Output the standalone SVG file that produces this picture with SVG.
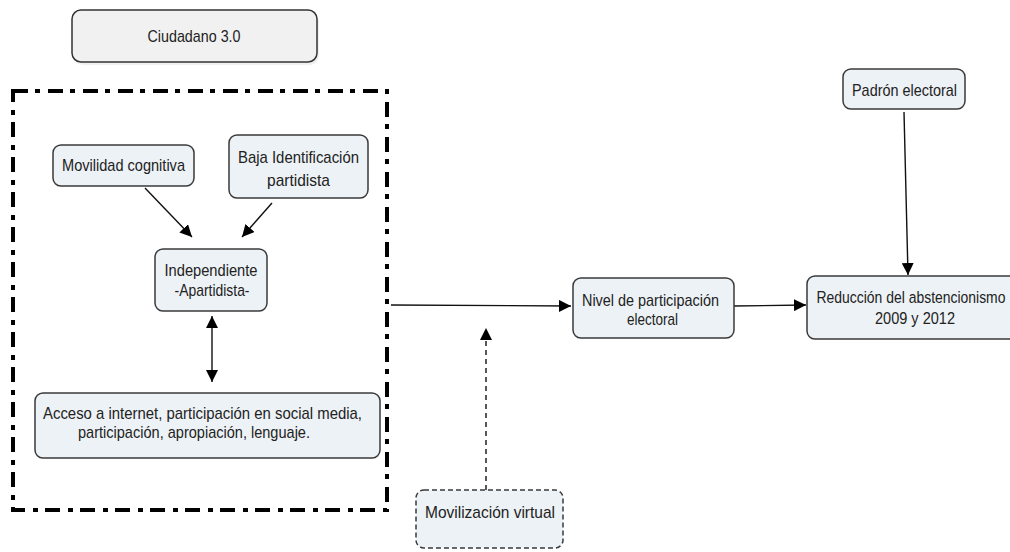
<svg xmlns="http://www.w3.org/2000/svg" width="1010" height="552" viewBox="0 0 1010 552">
<defs>
<marker id="ah" markerWidth="12" markerHeight="12" viewBox="0 0 12 12" refX="12" refY="6" orient="auto" markerUnits="userSpaceOnUse">
<path d="M0,0 L12,6 L0,12 Z" fill="#000"/>
</marker>
<marker id="ahs" markerWidth="12" markerHeight="12" viewBox="0 0 12 12" refX="0" refY="6" orient="auto" markerUnits="userSpaceOnUse">
<path d="M12,0 L0,6 L12,12 Z" fill="#000"/>
</marker>
</defs>
<style>
.n{fill:#edf2f6;stroke:#3a3a3a;stroke-width:1.5}
.sh{fill:#000;opacity:0.06}
.t{font-family:"Liberation Sans",Arial,sans-serif;font-size:17px;fill:#222;text-anchor:middle}
.c{fill:none;stroke:#111;stroke-width:1.4}
</style>
<rect width="1010" height="552" fill="#fff"/>
<rect x="13" y="91" width="374" height="419" fill="none" stroke="#000" stroke-width="4" stroke-dasharray="15 7 5 8"/>
<g id="connectors">
<line class="c" x1="145" y1="188" x2="192" y2="237" marker-end="url(#ah)"/>
<line class="c" x1="272" y1="203" x2="242" y2="237" marker-end="url(#ah)"/>
<line class="c" x1="212" y1="316" x2="212" y2="382" marker-start="url(#ahs)" marker-end="url(#ah)"/>
<line class="c" x1="391" y1="305" x2="571" y2="306" marker-end="url(#ah)"/>
<line class="c" x1="486" y1="490" x2="486" y2="328" stroke-dasharray="5 4" marker-end="url(#ah)"/>
<line class="c" x1="734" y1="306" x2="806" y2="305" marker-end="url(#ah)"/>
<line class="c" x1="904" y1="112" x2="908" y2="275" marker-end="url(#ah)"/>
</g>
<g id="ciudadano">
<rect class="sh" x="74" y="13" width="245" height="52" rx="9"/>
<rect x="72" y="10" width="245" height="52" rx="9" fill="#f1f1f1" stroke="#333" stroke-width="1.5"/>
<text class="t" x="194" y="42" textLength="93" lengthAdjust="spacingAndGlyphs">Ciudadano 3.0</text>
</g>
<g id="movilidad">
<rect class="n" x="53" y="145" width="141" height="41" rx="8"/>
<text class="t" x="123.5" y="171" textLength="123" lengthAdjust="spacingAndGlyphs">Movilidad cognitiva</text>
</g>
<g id="baja">
<rect class="n" x="229" y="135" width="139" height="63" rx="8"/>
<text class="t" x="298.5" y="163" textLength="121" lengthAdjust="spacingAndGlyphs">Baja Identificación</text>
<text class="t" x="298.5" y="186" textLength="63" lengthAdjust="spacingAndGlyphs">partidista</text>
</g>
<g id="independiente">
<rect class="n" x="155" y="249" width="112" height="62" rx="8"/>
<text class="t" x="211" y="276" textLength="93" lengthAdjust="spacingAndGlyphs">Independiente</text>
<text class="t" x="212" y="296" textLength="75" lengthAdjust="spacingAndGlyphs">-Apartidista-</text>
</g>
<g id="acceso">
<rect class="n" x="35" y="393" width="345" height="65" rx="8"/>
<text class="t" x="202.5" y="419" textLength="319" lengthAdjust="spacingAndGlyphs">Acceso a internet, participación en social media,</text>
<text class="t" x="194" y="438" textLength="232" lengthAdjust="spacingAndGlyphs">participación, apropiación, lenguaje.</text>
</g>
<g id="nivel">
<rect class="n" x="573" y="278" width="161" height="60" rx="8"/>
<text class="t" x="650.5" y="306" textLength="137" lengthAdjust="spacingAndGlyphs">Nivel de participación</text>
<text class="t" x="652.5" y="325" textLength="51" lengthAdjust="spacingAndGlyphs">electoral</text>
</g>
<g id="movilizacion">
<rect class="n" x="416" y="490" width="147" height="58" rx="8" stroke-dasharray="5 3"/>
<text class="t" x="490" y="518" textLength="130" lengthAdjust="spacingAndGlyphs">Movilización virtual</text>
</g>
<g id="padron">
<rect class="n" x="843" y="69" width="122" height="40" rx="8"/>
<text class="t" x="904.5" y="96" textLength="105" lengthAdjust="spacingAndGlyphs">Padrón electoral</text>
</g>
<g id="reduccion">
<rect class="n" x="807" y="276" width="222" height="63" rx="8"/>
<text class="t" transform="translate(911,303) scale(0.82,1)" x="0" y="0">Reducción del abstencionismo</text>
<text class="t" x="915" y="324" textLength="80" lengthAdjust="spacingAndGlyphs">2009 y 2012</text>
</g>
</svg>
